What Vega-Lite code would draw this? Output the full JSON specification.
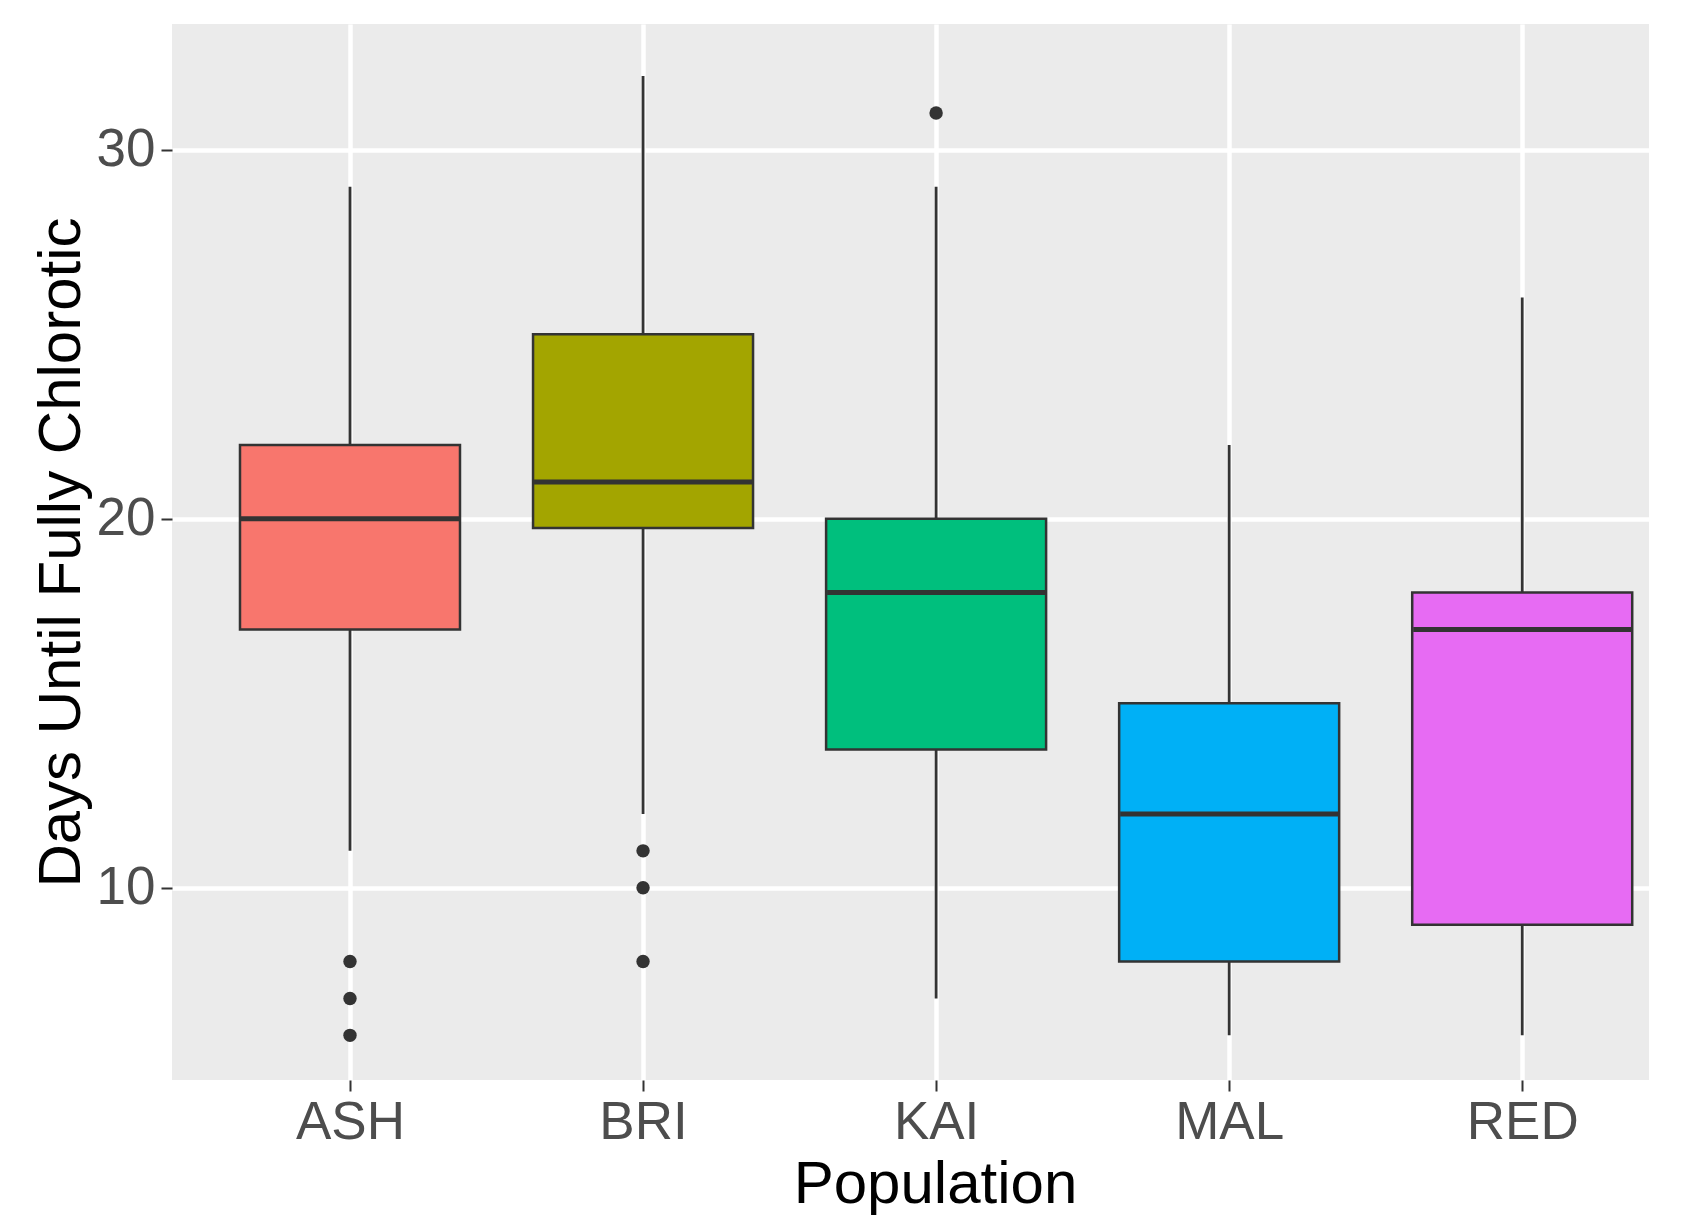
{
  "$schema": "https://vega.github.io/schema/vega-lite/v6.json",
  "width": 1477,
  "height": 1056,
  "autosize": {"type": "none"},
  "padding": {"left": 172, "top": 24, "right": 41, "bottom": 137},
  "background": "white",
  "config": {
    "font": "Liberation Sans",
    "view": {"fill": "#EBEBEB", "stroke": null},
    "axis": {
      "grid": true,
      "gridColor": "white",
      "gridWidth": 4.5,
      "domain": false,
      "tickColor": "#333333",
      "tickWidth": 2,
      "tickSize": 11,
      "labelColor": "#4D4D4D",
      "labelFontSize": 53,
      "titleFontSize": 60,
      "titleFontWeight": "normal",
      "titleColor": "black"
    }
  },
  "datasets": {
    "stats": [
      {"Population": "ASH", "lower": 11, "q1": 17, "median": 20, "q3": 22, "upper": 29},
      {"Population": "BRI", "lower": 12, "q1": 19.75, "median": 21, "q3": 25, "upper": 32},
      {"Population": "KAI", "lower": 7, "q1": 13.75, "median": 18, "q3": 20, "upper": 29},
      {"Population": "MAL", "lower": 6, "q1": 8, "median": 12, "q3": 15, "upper": 22},
      {"Population": "RED", "lower": 6, "q1": 9, "median": 17, "q3": 18, "upper": 26}
    ],
    "outliers": [
      {"Population": "ASH", "value": 8},
      {"Population": "ASH", "value": 7},
      {"Population": "ASH", "value": 6},
      {"Population": "BRI", "value": 11},
      {"Population": "BRI", "value": 10},
      {"Population": "BRI", "value": 8},
      {"Population": "KAI", "value": 31}
    ]
  },
  "encoding": {
    "x": {
      "field": "Population",
      "type": "nominal",
      "sort": ["ASH", "BRI", "KAI", "MAL", "RED"],
      "scale": {"type": "point", "padding": 0.52, "align": 0.584},
      "axis": {"labelAngle": 0, "labelPadding": 5, "title": "Population", "titlePadding": 6, "titleX": 763}
    }
  },
  "layer": [
    {
      "data": {"name": "stats"},
      "mark": {"type": "rule", "color": "#333333", "strokeWidth": 2.8},
      "encoding": {
        "y": {
          "field": "lower",
          "type": "quantitative",
          "scale": {"domain": [4.79, 33.41], "nice": false, "zero": false},
          "axis": {"values": [10, 20, 30], "title": "Days Until Fully Chlorotic", "labelPadding": 6, "titlePadding": 4}
        },
        "y2": {"field": "upper"}
      }
    },
    {
      "data": {"name": "stats"},
      "mark": {"type": "bar", "size": 220, "stroke": "#333333", "strokeWidth": 2.5},
      "encoding": {
        "y": {"field": "q1", "type": "quantitative"},
        "y2": {"field": "q3"},
        "fill": {
          "field": "Population",
          "type": "nominal",
          "scale": {"domain": ["ASH", "BRI", "KAI", "MAL", "RED"], "range": ["#F8766D", "#A3A500", "#00BF7D", "#00B0F6", "#E76BF3"]},
          "legend": null
        }
      }
    },
    {
      "data": {"name": "stats"},
      "mark": {"type": "tick", "size": 218, "thickness": 5, "color": "#333333", "opacity": 1},
      "encoding": {
        "y": {"field": "median", "type": "quantitative"}
      }
    },
    {
      "data": {"name": "outliers"},
      "mark": {"type": "point", "filled": true, "size": 180, "color": "#333333", "opacity": 1},
      "encoding": {
        "y": {"field": "value", "type": "quantitative"}
      }
    }
  ]
}
